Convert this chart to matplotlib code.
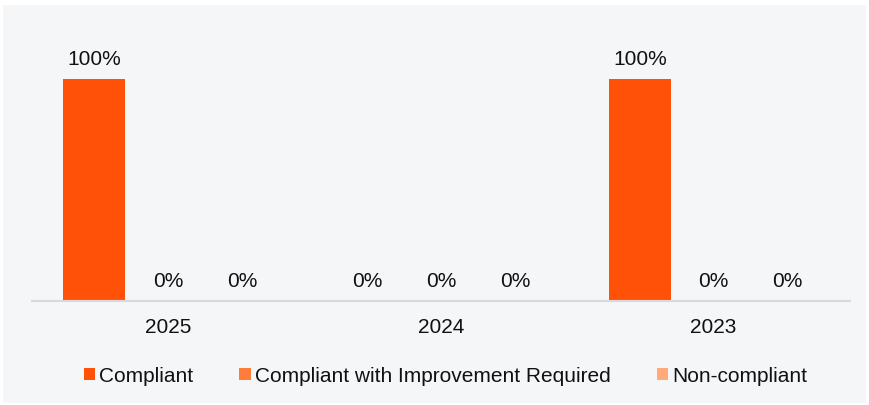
import matplotlib
matplotlib.use("Agg")
import matplotlib.pyplot as plt
import numpy as np
from matplotlib.patches import Rectangle

years = ["2025", "2024", "2023"]
series = ["Compliant", "Compliant with Improvement Required", "Non-compliant"]
compliant = [100, 0, 100]
improvement = [0, 0, 0]
non_compliant = [0, 0, 0]
colors = ["#FF5208", "#FF7C3A", "#FFAA78"]

plt.rcParams['font.family'] = ['Liberation Sans', 'DejaVu Sans']
FS = 15

fig = plt.figure(figsize=(8.69, 4.05), dpi=100, facecolor="white")
W, H = 869, 405
fig.patches.append(Rectangle((3 / W, 2 / H), 863 / W, 398 / H, transform=fig.transFigure,
                             facecolor="#F5F6F8", edgecolor="none", zorder=-5))

ax = fig.add_axes([32 / W, 104 / H, 818 / W, 266 / H])
ax.set_zorder(2)
ax.set_facecolor("none")

x = np.arange(len(years))
step = 0.271
bw = 0.227
data = [compliant, improvement, non_compliant]
for k, (vals, name, c) in enumerate(zip(data, series, colors)):
    pos = x + (k - 1) * step
    ax.bar(pos, vals, width=bw, color=c, label=name, zorder=2)
    for p, v in zip(pos, vals):
        ax.annotate(f"{v}%", (p, v), xytext=(0, 10), textcoords="offset points",
                    ha="center", va="baseline", fontsize=FS, color="#111111")

ax.set_xlim(-0.5, 2.5)
ax.set_ylim(0, 120)
ax.set_yticks([])
ax.set_xticks(x)
ax.set_xticklabels(years, fontsize=FS, color="#111111")
ax.tick_params(axis="x", length=0, pad=12.5)
for s in ["top", "right", "left"]:
    ax.spines[s].set_visible(False)
ax.spines["bottom"].set_color("#D9D9D9")
ax.spines["bottom"].set_linewidth(1.5)

leg = fig.legend(loc="center", bbox_to_anchor=(0.5 + 11 / W, 1 - 376 / H), ncol=3, frameon=False,
                 fontsize=FS, handlelength=0.55, handleheight=0.55, handletextpad=0.2,
                 columnspacing=2.2)
for t in leg.get_texts():
    t.set_color("#111111")

fig.savefig("out.png", dpi=100, facecolor="white")
